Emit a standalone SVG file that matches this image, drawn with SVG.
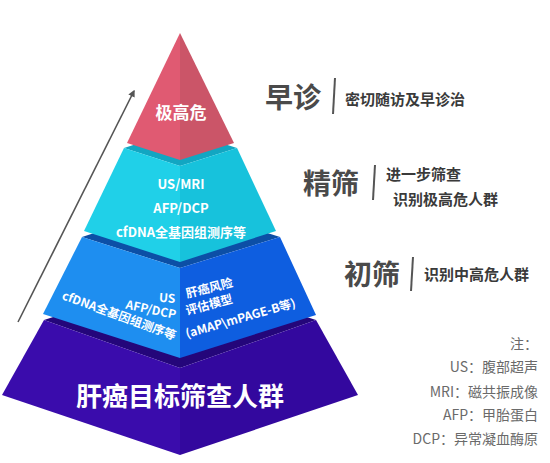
<svg xmlns="http://www.w3.org/2000/svg" width="550" height="463" viewBox="0 0 550 463">
<defs>
<marker id="ah" viewBox="0 0 10 10" refX="8" refY="5" markerWidth="7" markerHeight="7" orient="auto" markerUnits="userSpaceOnUse">
<path d="M0,0 L10,5 L0,10 z" fill="#555"/>
</marker>
<style>
text{font-family:"Noto Sans CJK SC","Noto Sans",sans-serif;}
.w{fill:#fff;font-weight:bold;}
.big{fill:#4a4a4a;font-weight:bold;font-size:28px;}
.sub{fill:#3a3a3a;font-weight:bold;font-size:15px;}
.note{fill:#6a6a6a;font-size:14px;text-anchor:end;}
.div{stroke:#555;stroke-width:2;}
</style>
</defs>
<rect width="550" height="463" fill="#fff"/>
<g id="connectors">
<line x1="18" y1="322" x2="134" y2="91" stroke="#555" stroke-width="1.6" marker-end="url(#ah)"/>
</g>
<g id="tier-base">
<polygon points="44,320 180,276 316,320 180,368" fill="#24067a"/>
<polygon points="44,320 180,368 180,455 2,395" fill="#3a0cac"/>
<polygon points="180,368 316,320 358,395 180,455" fill="#33089e"/>
<text class="w" x="180" y="406" font-size="26" text-anchor="middle">肝癌目标筛查人群</text>
</g>
<g id="tier-primary">
<polygon points="82,237 180,205 280,237 180,268" fill="#0c4fa6"/>
<polygon points="82,237 180,268 180,358 43,314" fill="#1e8ef0"/>
<polygon points="180,268 280,237 316,315 180,358" fill="#0e5ee0"/>
<text class="w" font-size="12" text-anchor="end" transform="translate(175,303) rotate(4)">US</text>
<text class="w" font-size="12" text-anchor="end" transform="translate(175,319) rotate(12)">AFP/DCP</text>
<text class="w" font-size="12" text-anchor="end" transform="translate(174,340) rotate(20)">cfDNA全基因组测序等</text>
<text class="w" font-size="12" transform="translate(187,298) rotate(-14)">肝癌风险</text>
<text class="w" font-size="12" transform="translate(187,315) rotate(-15)">评估模型</text>
<text class="w" font-size="12" transform="translate(187,338) rotate(-16)">(aMAP\mPAGE-B等)</text>
</g>
<g id="tier-fine">
<polygon points="124,148 180,130 237,148 180,166" fill="#12a6c2"/>
<polygon points="124,148 180,166 180,262 84,231" fill="#20d0e8"/>
<polygon points="180,166 237,148 276,231 180,262" fill="#17c2dc"/>
<text class="w" x="181" y="189" font-size="13" text-anchor="middle">US/MRI</text>
<text class="w" x="181" y="213" font-size="13" text-anchor="middle">AFP/DCP</text>
<text class="w" x="181" y="237" font-size="13" text-anchor="middle">cfDNA全基因组测序等</text>
</g>
<g id="tier-top">
<polygon points="180,33 127,143 180,160" fill="#e05a72"/>
<polygon points="180,33 180,160 234,143" fill="#cb5568"/>
<text class="w" x="181" y="119" font-size="17" text-anchor="middle">极高危</text>
</g>
<g id="label-early">
<text class="big" x="265" y="108">早诊</text>
<line class="div" x1="335" y1="78" x2="333" y2="114"/>
<text class="sub" x="345" y="105">密切随访及早诊治</text>
</g>
<g id="label-fine">
<text class="big" x="303" y="194">精筛</text>
<line class="div" x1="375" y1="165" x2="373" y2="200"/>
<text class="sub" x="386" y="180">进一步筛查</text>
<text class="sub" x="393" y="205">识别极高危人群</text>
</g>
<g id="label-primary">
<text class="big" x="344" y="285">初筛</text>
<line class="div" x1="413" y1="257" x2="411" y2="291"/>
<text class="sub" x="424" y="280">识别中高危人群</text>
</g>
<g id="notes">
<text class="note" x="538" y="349">注：</text>
<text class="note" x="538" y="372">US：腹部超声</text>
<text class="note" x="538" y="397">MRI：磁共振成像</text>
<text class="note" x="538" y="420">AFP：甲胎蛋白</text>
<text class="note" x="538" y="444">DCP：异常凝血酶原</text>
</g>
</svg>
